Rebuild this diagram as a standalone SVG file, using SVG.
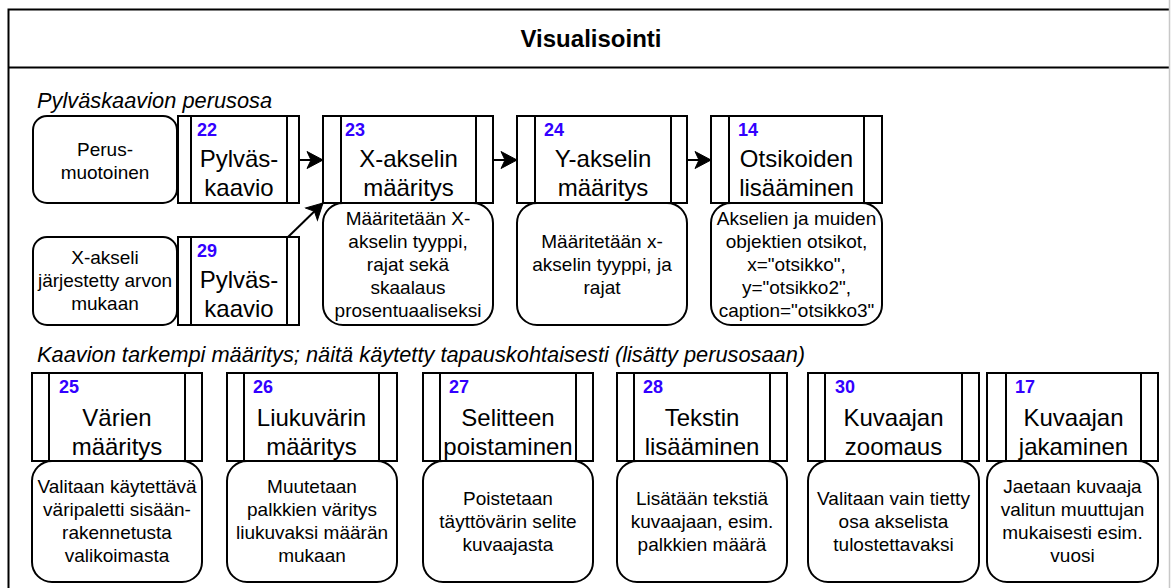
<svg xmlns="http://www.w3.org/2000/svg" width="1171" height="588" viewBox="0 0 1171 588">
  <style>
    text { font-family: "Liberation Sans", Arial, sans-serif; fill: #000; }
    .frame { fill: none; stroke: #000; stroke-width: 2; }
    .proc { fill: #fff; stroke: #000; stroke-width: 2; }
    .bar { stroke: #000; stroke-width: 2; }
    .note { fill: #fff; stroke: #000; stroke-width: 2; }
    .title { font-size: 24px; text-anchor: middle; }
    .num { font-size: 18px; font-weight: bold; fill: #3300ff; }
    .desc { font-size: 19px; text-anchor: middle; }
    .section { font-size: 21.8px; font-style: italic; }
    .head { font-size: 24px; font-weight: bold; text-anchor: middle; }
    .edge { fill: none; stroke: #000; stroke-width: 2; }
  </style>
  <defs>
    <marker id="arrow" markerUnits="userSpaceOnUse" markerWidth="20" markerHeight="20" viewBox="0 0 20 20" refX="17" refY="10" orient="auto">
      <path d="M1,1.5 L17,10 L1,18.5 L5,10 Z" fill="#000" stroke="#000" stroke-width="1"/>
    </marker>
  </defs>

  <rect width="1171" height="588" fill="#fff"/>

  <!-- container -->
  <g id="container">
    <path class="frame" d="M1169,9.5 H8.5 V588"/>
    <line class="frame" x1="8.5" y1="67.5" x2="1169" y2="67.5"/>
    <line x1="1169.5" y1="0" x2="1169.5" y2="588" stroke="#c8c8c8" stroke-width="1.5"/>
    <text class="head" x="591" y="47">Visualisointi</text>
    <text class="section" x="37" y="108">Pylväskaavion perusosa</text>
    <text class="section" x="37" y="362">Kaavion tarkempi määritys; näitä käytetty tapauskohtaisesti (lisätty perusosaan)</text>
  </g>

  <!-- connectors -->
  <g id="connectors">
    <line class="edge" x1="299" y1="160" x2="323" y2="160" marker-end="url(#arrow)"/>
    <line class="edge" x1="493" y1="160" x2="517" y2="160" marker-end="url(#arrow)"/>
    <line class="edge" x1="687" y1="160" x2="711" y2="160" marker-end="url(#arrow)"/>
    <line class="edge" x1="288" y1="237" x2="323" y2="203" marker-end="url(#arrow)"/>
  </g>

  <!-- top row -->
  <g id="perusmuotoinen">
    <rect class="note" x="33" y="116" width="144" height="87" rx="14"/>
    <text class="desc" x="105" y="156">Perus-</text>
    <text class="desc" x="105" y="179">muotoinen</text>
  </g>

  <g id="node22">
    <rect class="proc" x="178" y="116" width="121" height="87"/>
    <line class="bar" x1="191" y1="116" x2="191" y2="203"/>
    <line class="bar" x1="287" y1="116" x2="287" y2="203"/>
    <text class="num" x="197" y="136">22</text>
    <text class="title" x="239" y="167">Pylväs-</text>
    <text class="title" x="239" y="196">kaavio</text>
  </g>

  <g id="xakseli-jarjestetty">
    <rect class="note" x="33" y="237" width="144" height="88" rx="14"/>
    <text class="desc" x="105" y="264">X-akseli</text>
    <text class="desc" x="105" y="287">järjestetty arvon</text>
    <text class="desc" x="105" y="310">mukaan</text>
  </g>

  <g id="node29">
    <rect class="proc" x="178" y="237" width="121" height="88"/>
    <line class="bar" x1="191" y1="237" x2="191" y2="325"/>
    <line class="bar" x1="287" y1="237" x2="287" y2="325"/>
    <text class="num" x="197" y="257">29</text>
    <text class="title" x="239" y="288">Pylväs-</text>
    <text class="title" x="239" y="317">kaavio</text>
  </g>

  <g id="node23">
    <rect class="note" x="323" y="203" width="170" height="122" rx="20"/>
    <rect class="proc" x="323" y="116" width="170" height="87"/>
    <line class="bar" x1="341" y1="116" x2="341" y2="203"/>
    <line class="bar" x1="476" y1="116" x2="476" y2="203"/>
    <text class="num" x="345" y="136">23</text>
    <text class="title" x="408.5" y="167">X-akselin</text>
    <text class="title" x="408.5" y="196">määritys</text>
    <text class="desc" x="408" y="225">Määritetään X-</text>
    <text class="desc" x="408" y="248">akselin tyyppi,</text>
    <text class="desc" x="408" y="271">rajat sekä</text>
    <text class="desc" x="408" y="294">skaalaus</text>
    <text class="desc" x="408" y="317">prosentuaaliseksi</text>
  </g>

  <g id="node24">
    <rect class="note" x="517" y="203" width="170" height="122" rx="20"/>
    <rect class="proc" x="517" y="116" width="170" height="87"/>
    <line class="bar" x1="535" y1="116" x2="535" y2="203"/>
    <line class="bar" x1="671" y1="116" x2="671" y2="203"/>
    <text class="num" x="544" y="136">24</text>
    <text class="title" x="603" y="167">Y-akselin</text>
    <text class="title" x="603" y="196">määritys</text>
    <text class="desc" x="602" y="248">Määritetään x-</text>
    <text class="desc" x="602" y="271">akselin tyyppi, ja</text>
    <text class="desc" x="602" y="294">rajat</text>
  </g>

  <g id="node14">
    <rect class="note" x="711" y="203" width="171" height="122" rx="20"/>
    <rect class="proc" x="711" y="116" width="171" height="87"/>
    <line class="bar" x1="729" y1="116" x2="729" y2="203"/>
    <line class="bar" x1="864" y1="116" x2="864" y2="203"/>
    <text class="num" x="738" y="136">14</text>
    <text class="title" x="796.5" y="167">Otsikoiden</text>
    <text class="title" x="796.5" y="196">lisääminen</text>
    <text class="desc" x="796.5" y="225">Akselien ja muiden</text>
    <text class="desc" x="796.5" y="248">objektien otsikot,</text>
    <text class="desc" x="796.5" y="271">x="otsikko",</text>
    <text class="desc" x="796.5" y="294">y="otsikko2",</text>
    <text class="desc" x="796.5" y="317">caption="otsikko3"</text>
  </g>

  <!-- bottom row -->
  <g id="node25">
    <rect class="note" x="32" y="461" width="170" height="121" rx="20"/>
    <rect class="proc" x="32" y="373" width="170" height="88"/>
    <line class="bar" x1="49" y1="373" x2="49" y2="461"/>
    <line class="bar" x1="185" y1="373" x2="185" y2="461"/>
    <text class="num" x="59" y="393">25</text>
    <text class="title" x="117" y="426">Värien</text>
    <text class="title" x="117" y="455">määritys</text>
    <text class="desc" x="117" y="493">Valitaan käytettävä</text>
    <text class="desc" x="117" y="516">väripaletti sisään-</text>
    <text class="desc" x="117" y="539">rakennetusta</text>
    <text class="desc" x="117" y="562">valikoimasta</text>
  </g>

  <g id="node26">
    <rect class="note" x="227" y="461" width="170" height="121" rx="20"/>
    <rect class="proc" x="227" y="373" width="170" height="88"/>
    <line class="bar" x1="244" y1="373" x2="244" y2="461"/>
    <line class="bar" x1="379" y1="373" x2="379" y2="461"/>
    <text class="num" x="253" y="393">26</text>
    <text class="title" x="311.5" y="426">Liukuvärin</text>
    <text class="title" x="311.5" y="455">määritys</text>
    <text class="desc" x="312" y="493">Muutetaan</text>
    <text class="desc" x="312" y="516">palkkien väritys</text>
    <text class="desc" x="312" y="539">liukuvaksi määrän</text>
    <text class="desc" x="312" y="562">mukaan</text>
  </g>

  <g id="node27">
    <rect class="note" x="423" y="461" width="170" height="121" rx="20"/>
    <rect class="proc" x="423" y="373" width="170" height="88"/>
    <line class="bar" x1="440" y1="373" x2="440" y2="461"/>
    <line class="bar" x1="576" y1="373" x2="576" y2="461"/>
    <text class="num" x="449" y="393">27</text>
    <text class="title" x="508" y="426">Selitteen</text>
    <text class="title" x="508" y="455">poistaminen</text>
    <text class="desc" x="508" y="505">Poistetaan</text>
    <text class="desc" x="508" y="528">täyttövärin selite</text>
    <text class="desc" x="508" y="551">kuvaajasta</text>
  </g>

  <g id="node28">
    <rect class="note" x="617" y="461" width="170" height="121" rx="20"/>
    <rect class="proc" x="617" y="373" width="170" height="88"/>
    <line class="bar" x1="634" y1="373" x2="634" y2="461"/>
    <line class="bar" x1="770" y1="373" x2="770" y2="461"/>
    <text class="num" x="643" y="393">28</text>
    <text class="title" x="702" y="426">Tekstin</text>
    <text class="title" x="702" y="455">lisääminen</text>
    <text class="desc" x="702" y="505">Lisätään tekstiä</text>
    <text class="desc" x="702" y="528">kuvaajaan, esim.</text>
    <text class="desc" x="702" y="551">palkkien määrä</text>
  </g>

  <g id="node30">
    <rect class="note" x="808" y="461" width="171" height="121" rx="20"/>
    <rect class="proc" x="808" y="373" width="171" height="88"/>
    <line class="bar" x1="825" y1="373" x2="825" y2="461"/>
    <line class="bar" x1="962" y1="373" x2="962" y2="461"/>
    <text class="num" x="835" y="393">30</text>
    <text class="title" x="893.5" y="426">Kuvaajan</text>
    <text class="title" x="893.5" y="455">zoomaus</text>
    <text class="desc" x="893.5" y="505">Valitaan vain tietty</text>
    <text class="desc" x="893.5" y="528">osa akselista</text>
    <text class="desc" x="893.5" y="551">tulostettavaksi</text>
  </g>

  <g id="node17">
    <rect class="note" x="987" y="461" width="171" height="121" rx="20"/>
    <rect class="proc" x="987" y="373" width="171" height="88"/>
    <line class="bar" x1="1006" y1="373" x2="1006" y2="461"/>
    <line class="bar" x1="1141" y1="373" x2="1141" y2="461"/>
    <text class="num" x="1015" y="393">17</text>
    <text class="title" x="1073.5" y="426">Kuvaajan</text>
    <text class="title" x="1073.5" y="455">jakaminen</text>
    <text class="desc" x="1072.5" y="493">Jaetaan kuvaaja</text>
    <text class="desc" x="1072.5" y="516">valitun muuttujan</text>
    <text class="desc" x="1072.5" y="539">mukaisesti esim.</text>
    <text class="desc" x="1072.5" y="562">vuosi</text>
  </g>
</svg>
